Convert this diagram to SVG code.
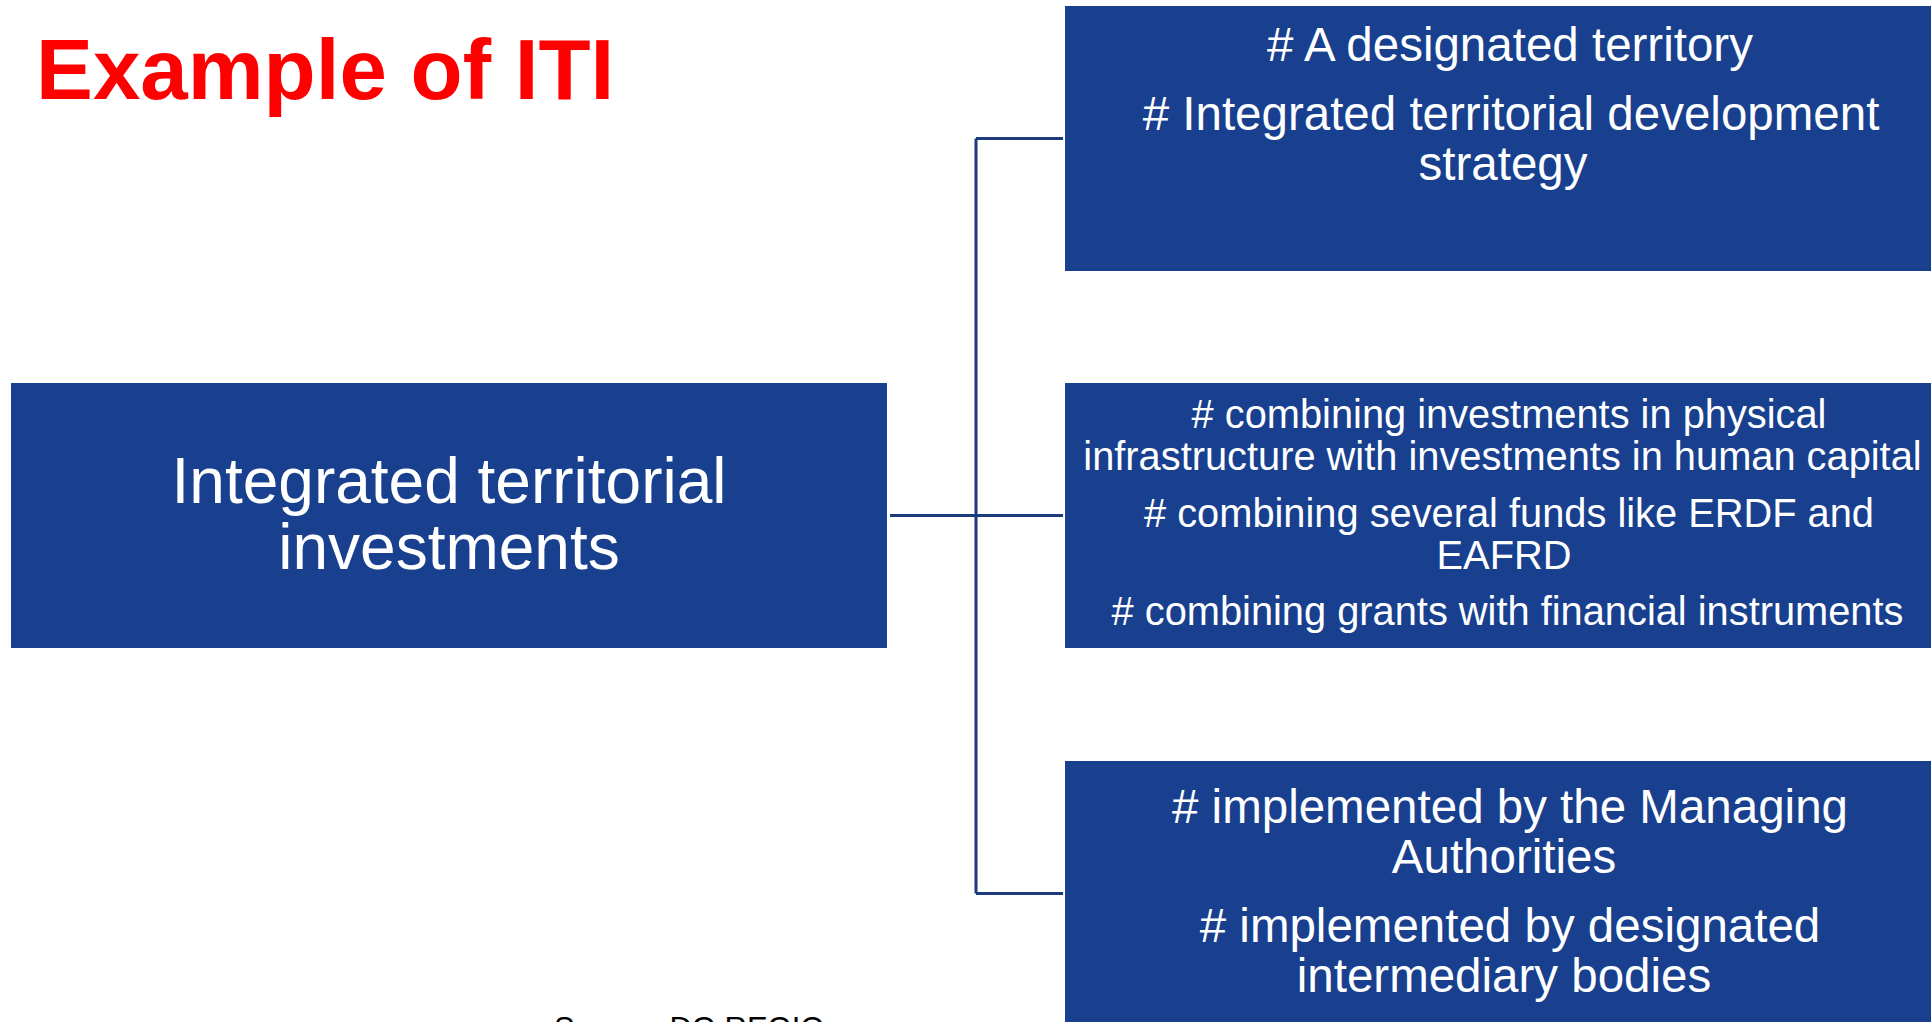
<svg xmlns="http://www.w3.org/2000/svg" width="1931" height="1022" viewBox="0 0 1931 1022">
  <style>
    .box { fill: #18408f; }
    .lbl { font-family: "Liberation Sans", Arial, sans-serif; fill: #ffffff; text-anchor: middle; }
    .big { font-size: 64px; }
    .mid { font-size: 47.5px; }
    .sml { font-size: 39.8px; }
    .conn { stroke: #1c3a7c; stroke-width: 3; fill: none; }
  </style>
  <rect width="1931" height="1022" fill="#ffffff"/>

  <!-- heading -->
  <text id="title" x="36" y="99" font-family="Liberation Sans, Arial, sans-serif" font-weight="bold" font-size="85.3" fill="#ff0000">Example of ITI</text>

  <!-- connectors -->
  <g id="connectors">
    <line class="conn" x1="890" y1="515.5" x2="976" y2="515.5"/>
    <line class="conn" x1="976" y1="138.5" x2="976" y2="893.5"/>
    <line class="conn" x1="976" y1="138.5" x2="1063" y2="138.5"/>
    <line class="conn" x1="976" y1="515.5" x2="1063" y2="515.5"/>
    <line class="conn" x1="976" y1="893.5" x2="1063" y2="893.5"/>
  </g>

  <!-- root node -->
  <g id="node-iti">
    <rect class="box" x="11" y="383" width="876" height="265"/>
    <text class="lbl big" x="449" y="503">Integrated territorial</text>
    <text class="lbl big" x="449" y="569">investments</text>
  </g>

  <!-- territory / strategy -->
  <g id="node-territory">
    <rect class="box" x="1065" y="6" width="880" height="265"/>
    <text class="lbl mid" x="1510" y="61"># A designated territory</text>
    <text class="lbl mid" x="1511" y="130"># Integrated territorial development</text>
    <text class="lbl mid" x="1503" y="180">strategy</text>
  </g>

  <!-- combining investments -->
  <g id="node-combining">
    <rect class="box" x="1065" y="383" width="880" height="265"/>
    <text class="lbl sml" x="1509" y="428"># combining investments in physical</text>
    <text class="lbl sml" x="1502.5" y="470">infrastructure with investments in human capital</text>
    <text class="lbl sml" x="1509" y="527"># combining several funds like ERDF and</text>
    <text class="lbl sml" x="1504" y="569">EAFRD</text>
    <text class="lbl sml" x="1507.5" y="625"># combining grants with financial instruments</text>
  </g>

  <!-- implementation -->
  <g id="node-implemented">
    <rect class="box" x="1065" y="761" width="880" height="265"/>
    <text class="lbl mid" x="1510" y="823"># implemented by the Managing</text>
    <text class="lbl mid" x="1504" y="873">Authorities</text>
    <text class="lbl mid" x="1510" y="942"># implemented by designated</text>
    <text class="lbl mid" x="1504" y="992">intermediary bodies</text>
  </g>

  <!-- source line, mostly below the lower edge -->
  <text id="source" x="554" y="1039" font-family="Liberation Sans, Arial, sans-serif" font-size="31" fill="#000000">Source: DG REGIO</text>
</svg>
